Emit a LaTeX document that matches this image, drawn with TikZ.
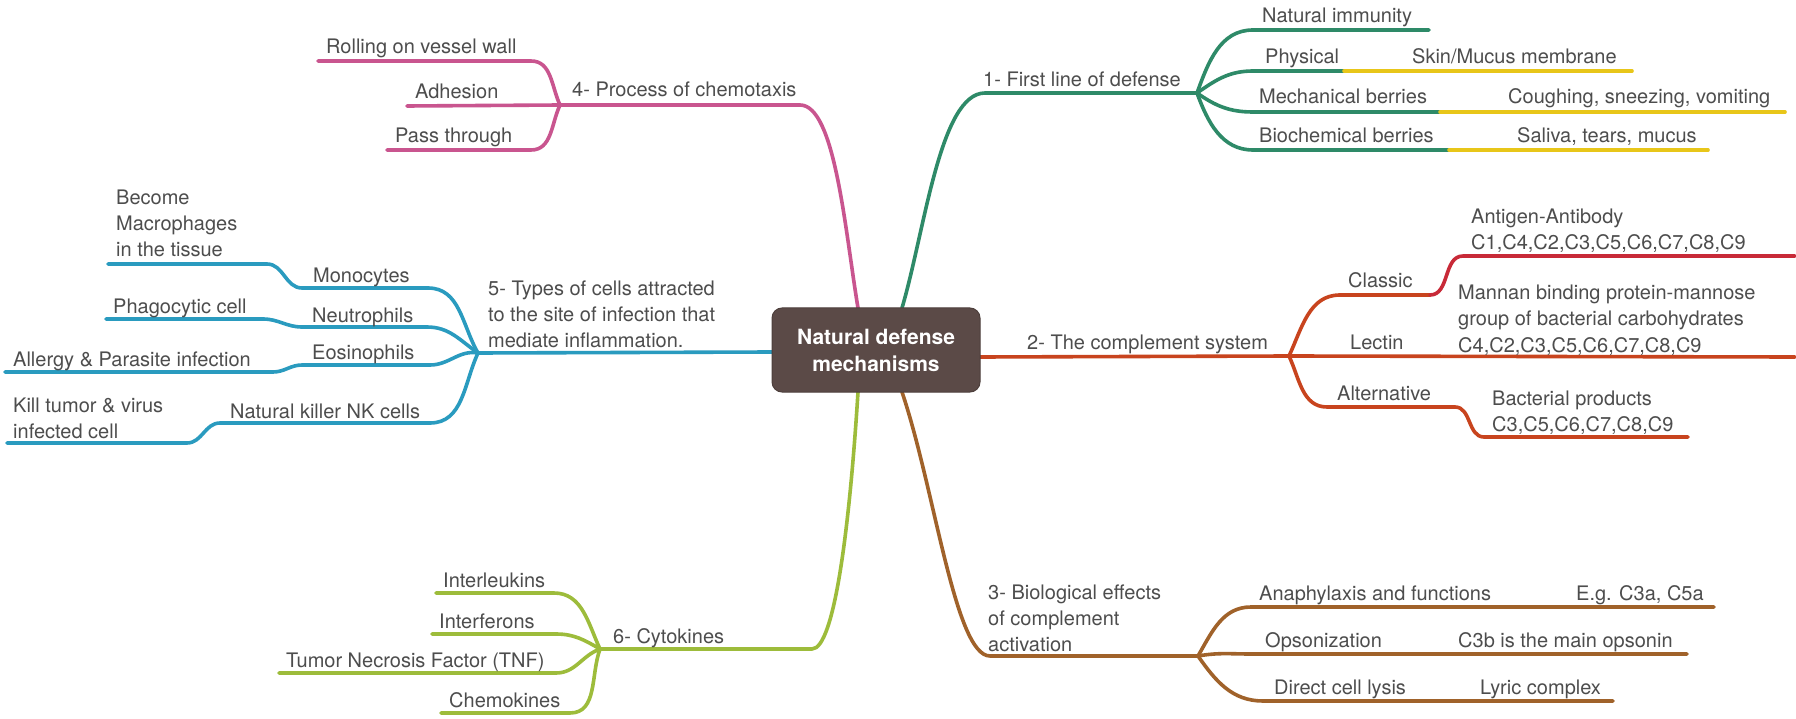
\documentclass[tikz,border=0pt]{standalone}
\usepackage{fontspec}
\setmainfont{TeX Gyre Heros}
\usetikzlibrary{backgrounds}
\definecolor{cgreen}{HTML}{2E8A68}
\definecolor{cyellow}{HTML}{E8C619}
\definecolor{corange}{HTML}{C8441E}
\definecolor{cred}{HTML}{C82A38}
\definecolor{cbrown}{HTML}{A0622A}
\definecolor{cpink}{HTML}{C9558F}
\definecolor{cblue}{HTML}{2A9BBF}
\definecolor{colive}{HTML}{9DBC3B}
\definecolor{cbox}{HTML}{5B4A47}
\definecolor{ctext}{HTML}{4D4D4D}
\newcommand{\ml}[1]{\begin{tabular}[t]{@{}l@{}}#1\end{tabular}}
\begin{document}
\begin{tikzpicture}[x=1pt,y=-1pt,
  lbl/.style={anchor=base west, inner sep=0pt, text=ctext, font=\fontsize{20}{26}\selectfont},
  rootbox/.style={fill=cbox, draw=cbox!85!black, line width=1pt, rounded corners=10pt,
     minimum width=208pt, minimum height=84pt, text=white,
     font=\bfseries\fontsize{21}{27}\selectfont, align=center, inner sep=0pt},
  br/.style={line width=3.6pt, line cap=round, line join=round},
]
\useasboundingbox (0,0) rectangle (1796,719);

% central node
\node[rootbox] (root) at (876,350) {Natural defense\\mechanisms};

% ---------- labels ----------
% branch 1
\node[lbl] (t1)   at (983,87)   {1- First line of defense};
\node[lbl] (t1a)  at (1262,23)  {Natural immunity};
\node[lbl] (t1b)  at (1265,64)  {Physical};
\node[lbl] (t1bb) at (1412,64)  {Skin/Mucus membrane};
\node[lbl] (t1c)  at (1259,104) {Mechanical berries};
\node[lbl] (t1cc) at (1508,104) {Coughing, sneezing, vomiting};
\node[lbl] (t1d)  at (1259,143) {Biochemical berries};
\node[lbl] (t1dd) at (1517,143) {Saliva, tears, mucus};
% branch 2
\node[lbl] (t2)   at (1027,349) {2- The complement system};
\node[lbl] (t2a)  at (1348,288) {Classic};
\node[lbl] (t2aa) at (1471,224) {\ml{Antigen-Antibody\\C1,C4,C2,C3,C5,C6,C7,C8,C9}};
\node[lbl] (t2b)  at (1350,349) {Lectin};
\node[lbl] (t2bb) at (1458,300) {\ml{Mannan binding protein-mannose\\group of bacterial carbohydrates\\C4,C2,C3,C5,C6,C7,C8,C9}};
\node[lbl] (t2c)  at (1337,400) {Alternative};
\node[lbl] (t2cc) at (1492,405) {\ml{Bacterial products\\C3,C5,C6,C7,C8,C9}};
% branch 3
\node[lbl] (t3)   at (988,599)  {\ml{3- Biological effects\\of complement\\activation}};
\node[lbl] (t3a)  at (1259,600) {Anaphylaxis and functions};
\node[lbl] (t3aa) at (1576,600) {E.g. C3a, C5a};
\node[lbl] (t3b)  at (1265,647) {Opsonization};
\node[lbl] (t3bb) at (1458,647) {C3b is the main opsonin};
\node[lbl] (t3c)  at (1274,694) {Direct cell lysis};
\node[lbl] (t3cc) at (1480,694) {Lyric complex};
% branch 4
\node[lbl] (t4)   at (572,97)   {4- Process of chemotaxis};
\node[lbl] (t4a)  at (326,54)   {Rolling on vessel wall};
\node[lbl] (t4b)  at (415,99)   {Adhesion};
\node[lbl] (t4c)  at (395,143)  {Pass through};
% branch 5
\node[lbl] (t5)   at (488,295)  {\ml{5- Types of cells attracted\\to the site of infection that\\mediate inflammation.}};
\node[lbl] (t5a)  at (313,283)  {Monocytes};
\node[lbl] (t5aa) at (116,205)  {\ml{Become\\Macrophages\\in the tissue}};
\node[lbl] (t5b)  at (312,322)  {Neutrophils};
\node[lbl] (t5bb) at (113,313)  {Phagocytic cell};
\node[lbl] (t5c)  at (312,359)  {Eosinophils};
\node[lbl] (t5cc) at (13,366)   {Allergy \& Parasite infection};
\node[lbl] (t5d)  at (230,418)  {Natural killer NK cells};
\node[lbl] (t5dd) at (13,412)   {\ml{Kill tumor \& virus\\infected cell}};
% branch 6
\node[lbl] (t6)   at (613,643)  {6- Cytokines};
\node[lbl] (t6a)  at (443,587)  {Interleukins};
\node[lbl] (t6b)  at (439,628)  {Interferons};
\node[lbl] (t6c)  at (286,667)  {Tumor Necrosis Factor (TNF)};
\node[lbl] (t6d)  at (449,707)  {Chemokines};

% ---------- coordinates ----------
\coordinate (b1s) at (902,308);  \coordinate (f1) at (1197,93);
\coordinate (b2s) at (980,357);  \coordinate (f2) at (1289,356);
\coordinate (b3s) at (902,392);  \coordinate (f3) at (1198,656);
\coordinate (b4s) at (858,308);  \coordinate (f4) at (560,105);
\coordinate (b5s) at (772,352);  \coordinate (f5) at (478,353);
\coordinate (b6s) at (858,392);  \coordinate (f6) at (600,649);

\coordinate (e1a) at (1429,30);
\coordinate (m1b) at (1344,71);  \coordinate (e1b) at (1632,71);
\coordinate (m1c) at (1440,112); \coordinate (e1c) at (1785,112);
\coordinate (m1d) at (1449,150); \coordinate (e1d) at (1708,150);

\coordinate (e2a) at (1795,256);
\coordinate (e2b) at (1795,357);
\coordinate (e2c) at (1688,437);

\coordinate (e3a) at (1714,607);
\coordinate (e3b) at (1687,654);
\coordinate (e3c) at (1613,701);

\coordinate (e4a) at (318,61);
\coordinate (e4b) at (407,106);
\coordinate (e4c) at (387,150);

\coordinate (e5a) at (108,264);
\coordinate (e5b) at (106,319);
\coordinate (e5c) at (5,372);
\coordinate (e5d) at (7,443);

\coordinate (e6a) at (436,593);
\coordinate (e6b) at (432,634);
\coordinate (e6c) at (279,673);
\coordinate (e6d) at (441,713);

\begin{pgfonlayer}{background}
\fill[white] (0,0) rectangle (1796,719);
% branch 1
\draw[br,cgreen] (b1s) .. controls (925,230) and (940,93) .. (985,93) -- (f1);
\draw[br,cgreen] (f1) to[out=70,in=180] (1253,30) -- (e1a);
\draw[br,cgreen] (f1) to[out=35,in=180] (1253,71) -- (m1b);
\draw[br,cgreen] (f1) to[out=-35,in=180] (1253,112) -- (m1c);
\draw[br,cgreen] (f1) to[out=-70,in=180] (1253,150) -- (m1d);
\draw[br,cyellow] (m1b) -- (e1b);
\draw[br,cyellow] (m1c) -- (e1c);
\draw[br,cyellow] (m1d) -- (e1d);
% branch 2
\draw[br,corange] (b2s) -- (f2);
\draw[br,corange] (f2) to[out=65,in=180] (1340,295) -- (1430,295);
\draw[br,cred] (1430,295) to[out=0,in=180] (1463,256) -- (e2a);
\draw[br,corange] (f2) -- (e2b);
\draw[br,corange] (f2) to[out=-65,in=180] (1327,407) -- (1455,407) to[out=0,in=180] (1484,437) -- (e2c);
% branch 3
\draw[br,cbrown] (b3s) .. controls (935,490) and (955,656) .. (990,656) -- (f3);
\draw[br,cbrown] (f3) to[out=60,in=180] (1251,607) -- (e3a);
\draw[br,cbrown] (f3) to[out=10,in=180] (1251,654) -- (e3b);
\draw[br,cbrown] (f3) to[out=-55,in=180] (1263,701) -- (e3c);
% branch 4
\draw[br,cpink] (b4s) .. controls (845,230) and (835,105) .. (800,105) -- (f4);
\draw[br,cpink] (f4) to[out=115,in=0] (531,61) -- (e4a);
\draw[br,cpink] (f4) -- (e4b);
\draw[br,cpink] (f4) to[out=-115,in=0] (531,150) -- (e4c);
% branch 5
\draw[br,cblue] (b5s) -- (f5);
\draw[br,cblue] (f5) to[out=120,in=0] (428,288) -- (302,288) to[out=180,in=0] (267,264) -- (e5a);
\draw[br,cblue] (f5) to[out=145,in=0] (427,327) -- (302,327) to[out=180,in=0] (263,319) -- (e5b);
\draw[br,cblue] (f5) to[out=170,in=0] (430,365) -- (302,365) to[out=180,in=0] (273,372) -- (e5c);
\draw[br,cblue] (f5) to[out=-115,in=0] (430,423) -- (220,423) to[out=180,in=0] (187,443) -- (e5d);
% branch 6
\draw[br,colive] (b6s) .. controls (850,520) and (835,649) .. (812,649) -- (f6);
\draw[br,colive] (f6) to[out=115,in=0] (554,593) -- (e6a);
\draw[br,colive] (f6) to[out=150,in=0] (556,634) -- (e6b);
\draw[br,colive] (f6) to[out=-160,in=0] (556,673) -- (e6c);
\draw[br,colive] (f6) to[out=-110,in=0] (570,713) -- (e6d);
\end{pgfonlayer}
\end{tikzpicture}
\end{document}
